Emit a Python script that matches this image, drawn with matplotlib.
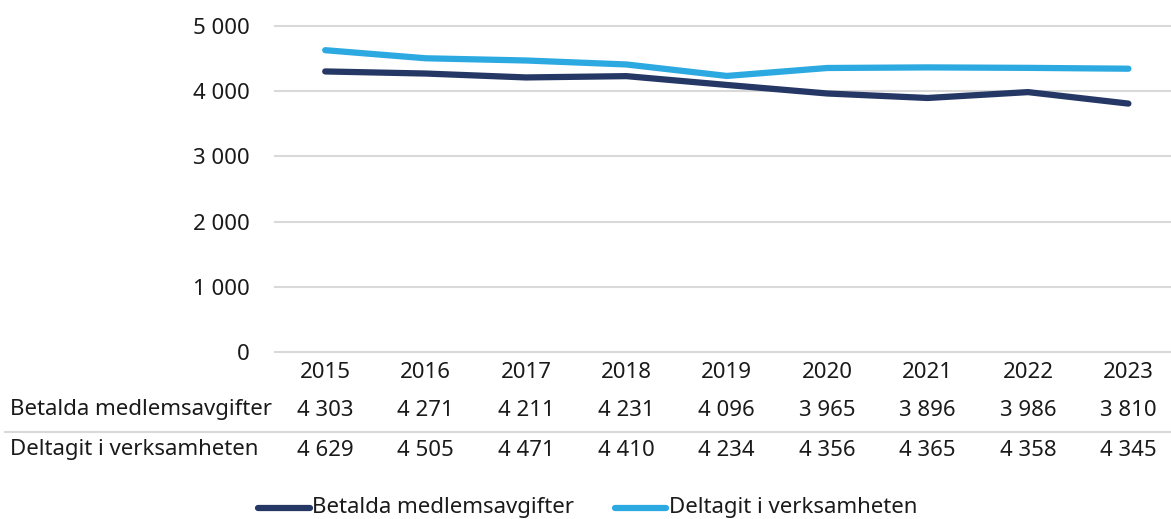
import matplotlib
matplotlib.use("Agg")
import matplotlib.pyplot as plt
import matplotlib.transforms as mtransforms
from matplotlib.lines import Line2D

years = ["2015", "2016", "2017", "2018", "2019", "2020", "2021", "2022", "2023"]
betalda = [4303, 4271, 4211, 4231, 4096, 3965, 3896, 3986, 3810]
deltagit = [4629, 4505, 4471, 4410, 4234, 4356, 4365, 4358, 4345]
series_names = ["Betalda medlemsavgifter", "Deltagit i verksamheten"]
yticks = [0, 1000, 2000, 3000, 4000, 5000]

dark = "#253764"
light = "#2BA9E0"
grid_c = "#d9d9d9"
txt_c = "#1a1a1a"
fs = 16

plt.rcParams["font.family"] = ["Noto Sans", "DejaVu Sans"]

W, H = 1171, 519
fig = plt.figure(figsize=(W / 100, H / 100), dpi=100)

def fx(px):
    return px / W

def fy(py):
    return 1 - py / H

def fmt(v):
    return f"{v:,}".replace(",", " ")

ax = fig.add_axes([fx(275), fy(352), 1 - fx(275), fy(26) - fy(352)])
x = list(range(len(years)))
ax.plot(x, betalda, color=dark, lw=4.5, solid_capstyle="round", solid_joinstyle="round", zorder=3)
ax.plot(x, deltagit, color=light, lw=4.5, solid_capstyle="round", solid_joinstyle="round", zorder=3)

ax.set_ylim(0, 5000)
ax.set_xlim(-0.5, -0.5 + (W - 275) / 100.4)
ax.set_yticks(yticks)
ax.set_yticklabels([fmt(v) for v in yticks], fontsize=fs, color=txt_c)
ax.tick_params(axis="y", length=0, pad=18)
ax.set_xticks([])
for v in yticks:
    ax.axhline(v, color=grid_c, lw=1.5, zorder=1, clip_on=False)
for s in ax.spines.values():
    s.set_visible(False)

# separator between table rows
fig.add_artist(Line2D([fx(5), 1], [fy(432), fy(432)], color=grid_c, lw=1.5))

tr = mtransforms.blended_transform_factory(ax.transData, fig.transFigure)
for i, yr in enumerate(years):
    ax.text(i, fy(372), yr, transform=tr, ha="center", va="center", fontsize=fs, color=txt_c)
    ax.text(i, fy(410), fmt(betalda[i]), transform=tr, ha="center", va="center", fontsize=fs, color=txt_c)
    ax.text(i, fy(450), fmt(deltagit[i]), transform=tr, ha="center", va="center", fontsize=fs, color=txt_c)
fig.text(fx(10), fy(410), series_names[0], ha="left", va="center", fontsize=fs, color=txt_c)
fig.text(fx(10), fy(450), series_names[1], ha="left", va="center", fontsize=fs, color=txt_c)

# legend
fig.add_artist(Line2D([fx(258), fx(310)], [fy(508), fy(508)], color=dark, lw=4.5, solid_capstyle="round"))
fig.text(fx(312), fy(507), series_names[0], ha="left", va="center", fontsize=fs, color=txt_c)
fig.add_artist(Line2D([fx(615), fx(666)], [fy(508), fy(508)], color=light, lw=4.5, solid_capstyle="round"))
fig.text(fx(669), fy(507), series_names[1], ha="left", va="center", fontsize=fs, color=txt_c)

fig.savefig("out.png", dpi=100)
